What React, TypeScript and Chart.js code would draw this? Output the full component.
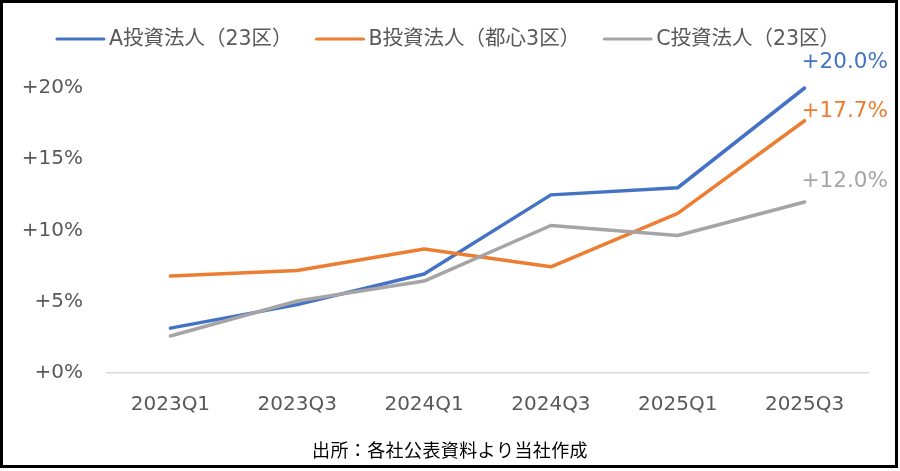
import React, { useEffect, useRef } from "react";
import { Chart, registerables } from "chart.js";

Chart.register(...registerables);

const categories = ["2023Q1", "2023Q3", "2024Q1", "2024Q3", "2025Q1", "2025Q3"];
const seriesNames = ["A投資法人（23区）", "B投資法人（都心3区）", "C投資法人（23区）"];
const seriesA = [3.15, 4.8, 6.95, 12.5, 13.0, 20.0];
const seriesB = [6.8, 7.2, 8.7, 7.45, 11.2, 17.7];
const seriesC = [2.6, 5.05, 6.45, 10.35, 9.65, 12.0];
const yTickValues = [0, 5, 10, 15, 20];
const footerText = "出所：各社公表資料より当社作成";

const colors = ["#4472C4", "#ED7D31", "#A5A5A5"];
const endLabelDy = [-26, -9, -21];
const LATIN = "'DejaVu Sans', 'Noto Sans CJK JP', sans-serif";
const CJK = "'Noto Sans CJK JP', 'DejaVu Sans', sans-serif";

const decorPlugin = {
  id: "decor",
  afterDraw(chart: any) {
    const ctx = chart.ctx as CanvasRenderingContext2D;
    ctx.save();
    // legend
    ctx.font = `20.5px ${LATIN}`;
    ctx.textBaseline = "middle";
    ctx.textAlign = "left";
    const lineW = 49, gap = 4, itemGap = 23;
    const widths = seriesNames.map((n) => ctx.measureText(n).width);
    const total = widths.reduce((s, w) => s + lineW + gap + w, 0) + itemGap * (seriesNames.length - 1);
    let x = (chart.width - total) / 2 - 2;
    const ly = 39;
    seriesNames.forEach((n, i) => {
      ctx.strokeStyle = colors[i];
      ctx.lineWidth = 3;
      ctx.lineCap = "round";
      ctx.beginPath();
      ctx.moveTo(x + 1, ly);
      ctx.lineTo(x + lineW - 1, ly);
      ctx.stroke();
      ctx.fillStyle = "#595959";
      ctx.fillText(n, x + lineW + gap, ly + 1);
      x += lineW + gap + widths[i] + itemGap;
    });
    // end labels
    ctx.font = `21.5px ${LATIN}`;
    chart.data.datasets.forEach((ds: any, i: number) => {
      const meta = chart.getDatasetMeta(i);
      const pt = meta.data[meta.data.length - 1];
      const v = ds.data[ds.data.length - 1];
      ctx.fillStyle = colors[i];
      ctx.fillText(`+${v.toFixed(1)}%`, pt.x - 3, pt.y + endLabelDy[i]);
    });
    // footer
    ctx.font = `18px ${CJK}`;
    ctx.fillStyle = "#000";
    ctx.textAlign = "center";
    (ctx as any).letterSpacing = "0.4px";
    ctx.fillText(footerText, chart.width / 2, 450);
    (ctx as any).letterSpacing = "0px";
    // border
    ctx.strokeStyle = "#000";
    ctx.lineWidth = 3;
    ctx.strokeRect(1.5, 1.5, 895, 465);
    ctx.restore();
  },
};

export default function App() {
  const ref = useRef<HTMLCanvasElement>(null);
  useEffect(() => {
    if (!ref.current) return;
    const data = [seriesA, seriesB, seriesC];
    const chart = new Chart(ref.current, {
      type: "line",
      data: {
        labels: categories,
        datasets: data.map((d, i) => ({
          label: seriesNames[i],
          data: d,
          borderColor: colors[i],
          backgroundColor: colors[i],
          borderWidth: 3.5,
          pointRadius: 0,
          tension: 0,
          borderJoinStyle: "round" as const,
          borderCapStyle: "round" as const,
          clip: false as any,
          order: 2 - i,
        })),
      },
      options: {
        animation: false,
        responsive: false,
        events: [],
        layout: { padding: { top: 88, right: 32, bottom: 0, left: 0 } },
        plugins: { legend: { display: false }, tooltip: { enabled: false } },
        scales: {
          x: {
            offset: true,
            grid: { display: false, drawTicks: false },
            border: { display: true, color: "#D9D9D9", width: 1.5 },
            ticks: { color: "#595959", font: { family: LATIN, size: 20 }, padding: 20, maxRotation: 0 },
            afterFit: (s: any) => { s.height = 98; },
          },
          y: {
            min: 0,
            max: 20,
            afterBuildTicks: (s: any) => { s.ticks = yTickValues.map((v) => ({ value: v })); },
            grid: { display: false, drawTicks: false },
            border: { display: false },
            ticks: {
              color: "#595959",
              font: { family: LATIN, size: 20 },
              padding: 24,
              callback: (v: any) => `+${v}%`,
            },
            afterFit: (s: any) => { s.width = 107; },
          },
        },
      },
      plugins: [decorPlugin],
    });
    return () => chart.destroy();
  }, []);
  return (
    <div style={{ position: "absolute", left: 0, top: 0, width: 900, height: 471, background: "#fff" }}>
      <canvas ref={ref} width={900} height={471} />
    </div>
  );
}
